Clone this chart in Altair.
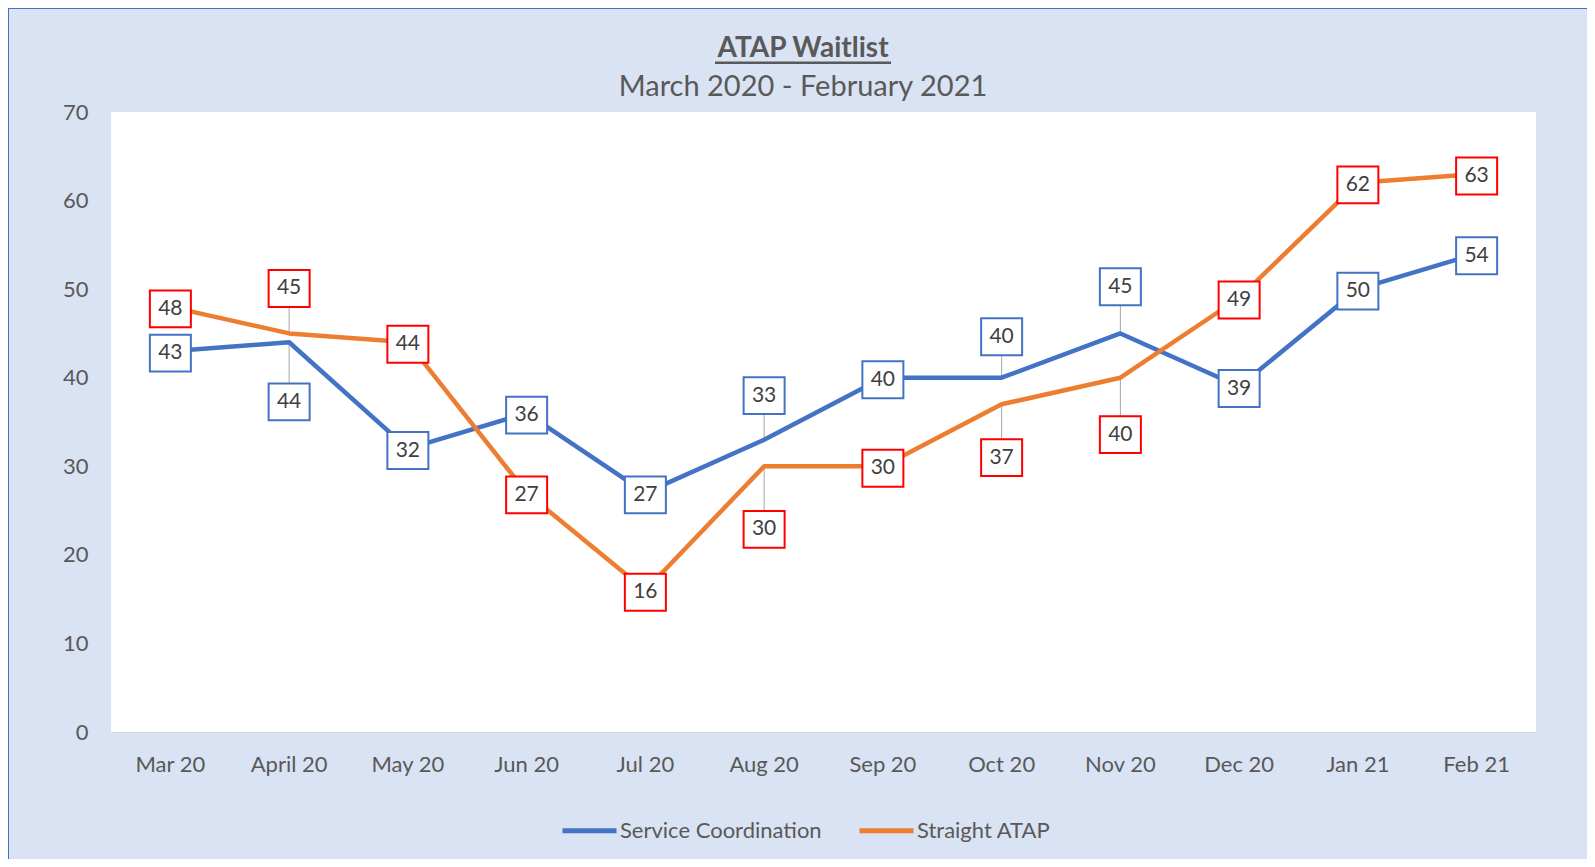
import altair as alt
import pandas as pd

months = ["Mar 20", "April 20", "May 20", "Jun 20", "Jul 20", "Aug 20",
          "Sep 20", "Oct 20", "Nov 20", "Dec 20", "Jan 21", "Feb 21"]
series_names = ["Service Coordination", "Straight ATAP"]
service = [43, 44, 32, 36, 27, 33, 40, 40, 45, 39, 50, 54]
straight = [48, 45, 44, 27, 16, 30, 30, 37, 40, 49, 62, 63]
# label displacement (in data units) for callout boxes
service_shift = [0, -6.5, 0, 0, 0, 5.2, 0, 4.85, 5.5, 0, 0, 0]
straight_shift = [0, 5.3, 0, 0, 0, -6.9, 0, -5.8, -6.2, 0, 0, 0]
y_ticks = [0, 10, 20, 30, 40, 50, 60, 70]

BLUE = "#4472C4"
ORANGE = "#ED7D31"
RED = "#FF0000"
GREY_TXT = "#595959"
FONT = "Lato"

rows = []
for name, vals, shifts in [(series_names[0], service, service_shift),
                           (series_names[1], straight, straight_shift)]:
    for m, v, s in zip(months, vals, shifts):
        rows.append({"month": m, "series": name, "value": v, "label_y": v + s})
df = pd.DataFrame(rows)

W, H = 1425, 620
PAD = {"left": 103, "top": 104, "right": 51, "bottom": 127}
TOTAL_W = W + PAD["left"] + PAD["right"]
TOTAL_H = H + PAD["top"] + PAD["bottom"]

x_enc = alt.X("month:N", sort=months, title=None,
              axis=alt.Axis(labelAngle=0, labelFont=FONT, labelFontSize=22,
                            labelColor=GREY_TXT, ticks=False, tickSize=0,
                            domainColor="#D9D9D9", domainWidth=1,
                            labelPadding=22, grid=False))
y_scale = alt.Scale(domain=[0, 70], nice=False)
y_enc = alt.Y("value:Q", scale=y_scale, title=None,
              axis=alt.Axis(values=y_ticks, labelFont=FONT, labelFontSize=22,
                            labelColor=GREY_TXT, ticks=False, tickSize=0,
                            domain=False, grid=False, labelPadding=23))

base = alt.Chart(df)

leaders = base.mark_rule(color="#A6A6A6", strokeWidth=1).encode(
    x=x_enc, y=y_enc, y2="label_y:Q")

lines = base.mark_line(strokeWidth=4.5, strokeJoin="round", strokeCap="round").encode(
    x=x_enc, y=y_enc,
    color=alt.Color("series:N",
                    scale=alt.Scale(domain=series_names, range=[BLUE, ORANGE]),
                    legend=alt.Legend(orient="none", legendX=449, legendY=689,
                                      direction="horizontal", title=None,
                                      symbolType="stroke", symbolSize=2916,
                                      symbolStrokeWidth=5, labelFont=FONT,
                                      labelFontSize=22, labelColor=GREY_TXT,
                                      labelLimit=400, labelOffset=1,
                                      columnPadding=27)))

boxes = base.mark_point(shape="M-1,-0.9H1V0.9H-1Z", size=1681, filled=False,
                        fill="white", fillOpacity=1, strokeWidth=2,
                        opacity=1, yOffset=2).encode(
    x=x_enc,
    y=alt.Y("label_y:Q", scale=y_scale),
    stroke=alt.Stroke("series:N",
                      scale=alt.Scale(domain=series_names, range=[BLUE, RED]),
                      legend=None))

labels = base.mark_text(font=FONT, fontSize=21, color="#404040",
                        baseline="middle", align="center", yOffset=2).encode(
    x=x_enc, y=alt.Y("label_y:Q", scale=y_scale), text="value:Q")

title = alt.Chart(pd.DataFrame({"t": ["ATAP Waitlist"]})).mark_text(
    font=FONT, fontSize=28, fontWeight="bold", color=GREY_TXT,
    align="center", baseline="alphabetic").encode(
    x=alt.value(692), y=alt.value(-55), text="t:N")

underline = alt.Chart(pd.DataFrame({"a": [0]})).mark_rule(
    color=GREY_TXT, strokeWidth=2.5).encode(
    x=alt.value(604), x2=alt.value(780), y=alt.value(-49.3))

subtitle = alt.Chart(pd.DataFrame({"t": ["March 2020 - February 2021"]})).mark_text(
    font=FONT, fontSize=29, color=GREY_TXT,
    align="center", baseline="alphabetic").encode(
    x=alt.value(692), y=alt.value(-16), text="t:N")

border_top = alt.Chart(pd.DataFrame({"a": [0]})).mark_rule(
    color=BLUE, strokeWidth=2).encode(
    x=alt.value(-PAD["left"]), x2=alt.value(TOTAL_W - PAD["left"]),
    y=alt.value(-PAD["top"]))
border_left = alt.Chart(pd.DataFrame({"a": [0]})).mark_rule(
    color=BLUE, strokeWidth=2).encode(
    x=alt.value(-PAD["left"]), y=alt.value(-PAD["top"]),
    y2=alt.value(TOTAL_H - PAD["top"]))

chart = alt.layer(
    leaders, lines, boxes, labels, title, underline, subtitle,
    border_top, border_left
).properties(
    width=W, height=H,
    autosize=alt.AutoSizeParams(type="none"),
    padding=PAD,
    background="#DAE3F3",
).configure_view(fill="white", strokeWidth=0)

chart.save("out.html", embed_options={"renderer": "svg", "actions": False})
